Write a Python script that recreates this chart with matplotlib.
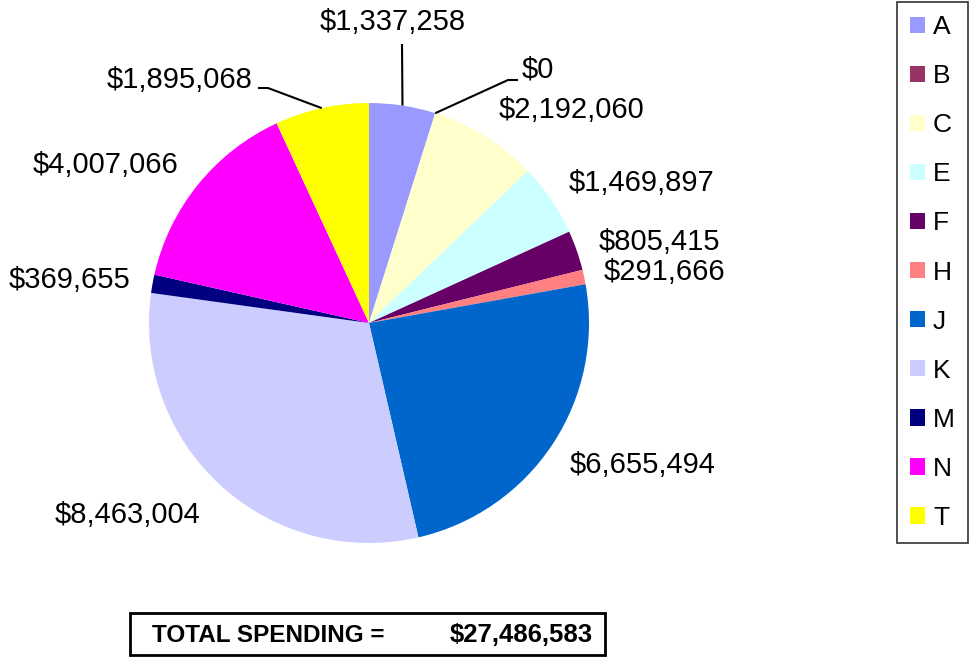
import numpy as np
import matplotlib.pyplot as plt
from matplotlib.patches import Rectangle

plt.rcParams['font.family'] = ['Liberation Sans', 'DejaVu Sans']

# data
categories = ["A", "B", "C", "E", "F", "H", "J", "K", "M", "N", "T"]
spending = [1337258, 0, 2192060, 1469897, 805415, 291666, 6655494, 8463004, 369655, 4007066, 1895068]
colors = ["#9999FF", "#993366", "#FFFFCC", "#CCFFFF", "#660066", "#FF8080",
          "#0066CC", "#CCCCFF", "#000080", "#FF00FF", "#FFFF00"]

W, H = 972, 660
fig = plt.figure(figsize=(9.72, 6.6), dpi=100)
ax = fig.add_axes([0, 0, 1, 1])

cx, cy, r = 369, H - 323, 220
wedges, _ = ax.pie(spending, colors=colors, startangle=90, counterclock=False,
                   center=(cx, cy), radius=r, wedgeprops=dict(linewidth=0),
                   frame=True)
ax.set_xlim(0, W)
ax.set_ylim(0, H)
ax.set_aspect("equal")
ax.axis("off")

# label positions (image pixels, centre of text)
label_pos = {
    "A": (393, 22), "B": (538, 70), "C": (572, 110), "E": (642, 183),
    "F": (659, 242), "H": (664, 272), "J": (643, 465), "K": (128, 515),
    "M": (70, 280), "N": (106, 165), "T": (180, 80),
}
# leader lines: label -> elbow points (image pixels)
leaders = {
    "A": [(402, 44)],
    "B": [(508, 80), (518, 80)],
    "T": [(268, 88), (258, 88)],
}

for w, cat, val in zip(wedges, categories, spending):
    x, y = label_pos[cat]
    ax.text(x, H - y, "${:,}".format(val), fontsize=21, ha="center", va="center")
    if cat in leaders:
        mid = np.deg2rad((w.theta1 + w.theta2) / 2)
        px = [cx + r * np.cos(mid)] + [p[0] for p in leaders[cat]]
        py = [cy + r * np.sin(mid)] + [H - p[1] for p in leaders[cat]]
        ax.plot(px, py, color="black", lw=1.5, solid_capstyle="butt")

leg = fig.legend(wedges, categories, loc="upper right",
                 bbox_to_anchor=(968 / W, 1 - 2 / H), fontsize=19,
                 frameon=True, fancybox=False, edgecolor="black",
                 handlelength=0.57, handleheight=0.57, handletextpad=0.3,
                 labelspacing=0.95, borderpad=0.5, borderaxespad=0)
leg.get_frame().set_linewidth(1.2)

# total box
ax.add_patch(Rectangle((130, H - 655), 475, 42, fill=False, edgecolor="black", lw=2))
ax.text(152, H - 635, "TOTAL SPENDING =", fontsize=17.5, fontweight="bold",
        ha="left", va="center")
ax.text(593, H - 635, "${:,}".format(sum(spending)), fontsize=18.5, fontweight="bold",
        ha="right", va="center")

fig.savefig("out.png", dpi=100)
